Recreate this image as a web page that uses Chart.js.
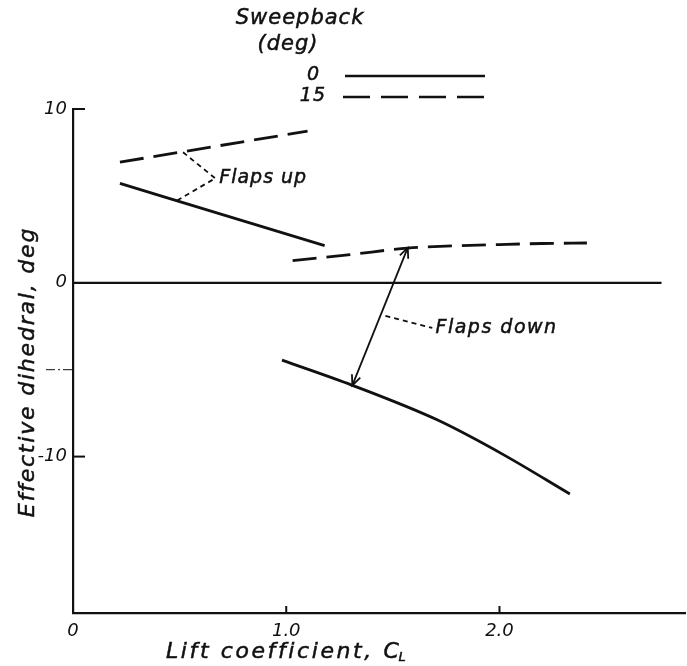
<!DOCTYPE html>
<html>
<head>
<meta charset="utf-8">
<script src="https://cdn.jsdelivr.net/npm/chart.js@4.4.1/dist/chart.umd.min.js"></script>
<style>
  html, body { margin: 0; padding: 0; background: #fff; }
  #wrap { width: 687px; height: 666px; }
</style>
</head>
<body>
<div id="wrap"><canvas id="dihedral" width="687" height="666"></canvas></div>
<script>
// flaps up, 0 deg sweep (solid) and 15 deg sweep (dashed)
const upCL0 = [0.22, 1.18];
const upDih0 = [5.72, 2.14];
const upCL15 = [0.22, 1.10];
const upDih15 = [6.94, 8.73];

// flaps down
const downCL0 = [0.98, 1.31, 1.71, 2.02, 2.33];
const downDih0 = [-4.45, -5.9, -7.9, -9.9, -12.15];
const downCL15 = [1.03, 1.3, 1.57, 1.8, 2.0, 2.2, 2.41];
const downDih15 = [1.27, 1.62, 2.0, 2.13, 2.2, 2.26, 2.29];

// reference line at zero dihedral
const zeroCL = [0, 2.76];
const zeroDih = [0, 0];

const xTicks = [0, 1, 2];
const xTickLabels = ["0", "1.0", "2.0"];
const yTicks = [10, 0, -10];
const yTickLabels = ["10", "0", "-10"];

const INK = "#111";
const FONT = "DejaVu Sans";

const pts = (xs, ys) => xs.map((v, i) => ({ x: v, y: ys[i] }));

function series(xs, ys, dashed, width) {
  return {
    data: pts(xs, ys),
    borderColor: INK,
    borderWidth: width || 2.8,
    borderDash: dashed ? [24, 10] : [],
    pointRadius: 0,
    fill: false,
    cubicInterpolationMode: "monotone"
  };
}

function arrowHead(ctx, fx, fy, tx, ty) {
  const a = Math.atan2(ty - fy, tx - fx);
  const len = 11, spread = 0.42;
  ctx.beginPath();
  ctx.moveTo(tx - len * Math.cos(a - spread), ty - len * Math.sin(a - spread));
  ctx.lineTo(tx, ty);
  ctx.lineTo(tx - len * Math.cos(a + spread), ty - len * Math.sin(a + spread));
  ctx.stroke();
}

function line(ctx, x1, y1, x2, y2) {
  ctx.beginPath();
  ctx.moveTo(x1, y1);
  ctx.lineTo(x2, y2);
  ctx.stroke();
}

// filled text with a thin outline so the lettering reads a bit heavier
function ink(ctx, s, x, y) {
  ctx.fillText(s, x, y);
  ctx.strokeText(s, x, y);
}

function setFont(ctx, size, spacing) {
  ctx.font = "italic " + size + "px '" + FONT + "'";
  ctx.letterSpacing = spacing + "px";
}

const overlay = {
  id: "overlay",
  afterDatasetsDraw(chart) {
    const { ctx, scales: { x, y } } = chart;
    const px = v => x.getPixelForValue(v);
    const py = v => y.getPixelForValue(v);
    ctx.save();
    ctx.strokeStyle = INK;
    ctx.fillStyle = INK;
    ctx.lineCap = "butt";

    // tick marks point into the plot
    ctx.lineWidth = 2;
    [10, -10].forEach(v => line(ctx, x.left, py(v), x.left + 12, py(v)));
    [1, 2].forEach(v => line(ctx, px(v), x.top, px(v), x.top - 7));

    // short dash-dot mark at -5 on the left of the axis
    ctx.lineWidth = 1;
    ctx.setLineDash([9, 3, 2, 3]);
    line(ctx, x.left - 27, py(-5), x.left, py(-5));
    ctx.setLineDash([]);

    // "Flaps up" leaders
    ctx.lineWidth = 1.8;
    ctx.setLineDash([5, 4]);
    const tipX = px(0.667), tipY = py(6.01);
    line(ctx, px(0.516), py(7.51), tipX, tipY);
    line(ctx, px(0.488), py(4.74), tipX, tipY);
    // "Flaps down" leader
    line(ctx, px(1.465), py(-1.9), px(1.685), py(-2.6));
    ctx.setLineDash([]);

    // double-headed arrow between the flaps-down curves
    const ax1 = px(1.57), ay1 = py(2.02), ax2 = px(1.31), ay2 = py(-5.9);
    ctx.lineWidth = 1.8;
    line(ctx, ax1, ay1, ax2, ay2);
    arrowHead(ctx, ax2, ay2, ax1, ay1);
    arrowHead(ctx, ax1, ay1, ax2, ay2);

    // annotation text
    ctx.lineWidth = 0.5;
    ctx.textBaseline = "middle";
    ctx.textAlign = "left";
    setFont(ctx, 19, 1);
    ink(ctx, "Flaps up", tipX + 4, tipY);
    setFont(ctx, 19, 1.5);
    ink(ctx, "Flaps down", px(1.70), py(-2.6));

    // legend
    setFont(ctx, 21, 1);
    ctx.textAlign = "center";
    ink(ctx, "Sweepback", 300, 19);
    ink(ctx, "(deg)", 288, 45);
    setFont(ctx, 19, 1);
    ctx.textAlign = "right";
    ink(ctx, "0", 320, 75);
    ink(ctx, "15", 326, 96);
    ctx.lineWidth = 2.6;
    line(ctx, 345, 76, 485, 76);
    ctx.setLineDash([27, 11]);
    line(ctx, 343, 97, 485, 97);
    ctx.setLineDash([]);

    // axis titles
    ctx.lineWidth = 0.5;
    setFont(ctx, 22, 2.6);
    ctx.textAlign = "left";
    const xt = "Lift coefficient, C";
    ink(ctx, xt, 166, 652);
    const w = ctx.measureText(xt).width;
    setFont(ctx, 13, 0);
    ink(ctx, "L", 166 + w - 3, 658);

    setFont(ctx, 22, 1.8);
    ctx.translate(28, 372);
    ctx.rotate(-Math.PI / 2);
    ctx.textAlign = "center";
    ink(ctx, "Effective dihedral, deg", 0, 0);
    ctx.restore();
  }
};

new Chart(document.getElementById("dihedral"), {
  type: "line",
  data: {
    datasets: [
      series(zeroCL, zeroDih, false, 2.2),
      series(upCL0, upDih0, false),
      series(upCL15, upDih15, true),
      series(downCL0, downDih0, false),
      series(downCL15, downDih15, true)
    ]
  },
  options: {
    responsive: false,
    animation: false,
    devicePixelRatio: 1,
    layout: { padding: { left: 0, top: 109, right: 2, bottom: 0 } },
    plugins: {
      legend: { display: false },
      tooltip: { enabled: false }
    },
    scales: {
      x: {
        type: "linear",
        min: 0,
        max: 2.87,
        grid: { display: false, drawTicks: false },
        border: { display: true, color: INK, width: 2.2 },
        ticks: {
          color: INK,
          padding: 8,
          maxRotation: 0,
          font: { family: FONT, size: 18, style: "italic" },
          callback: v => xTickLabels[xTicks.indexOf(v)]
        },
        afterBuildTicks: s => { s.ticks = xTicks.map(v => ({ value: v })); },
        afterFit: s => { s.height = 53; }
      },
      y: {
        type: "linear",
        min: -19,
        max: 10,
        grid: { display: false, drawTicks: false },
        border: { display: true, color: INK, width: 2.2 },
        ticks: {
          color: INK,
          padding: 6,
          font: { family: FONT, size: 18, style: "italic" },
          callback: v => yTickLabels[yTicks.indexOf(v)]
        },
        afterBuildTicks: s => { s.ticks = yTicks.map(v => ({ value: v })); },
        afterFit: s => { s.width = 73; }
      }
    }
  },
  plugins: [overlay]
});
</script>
</body>
</html>
